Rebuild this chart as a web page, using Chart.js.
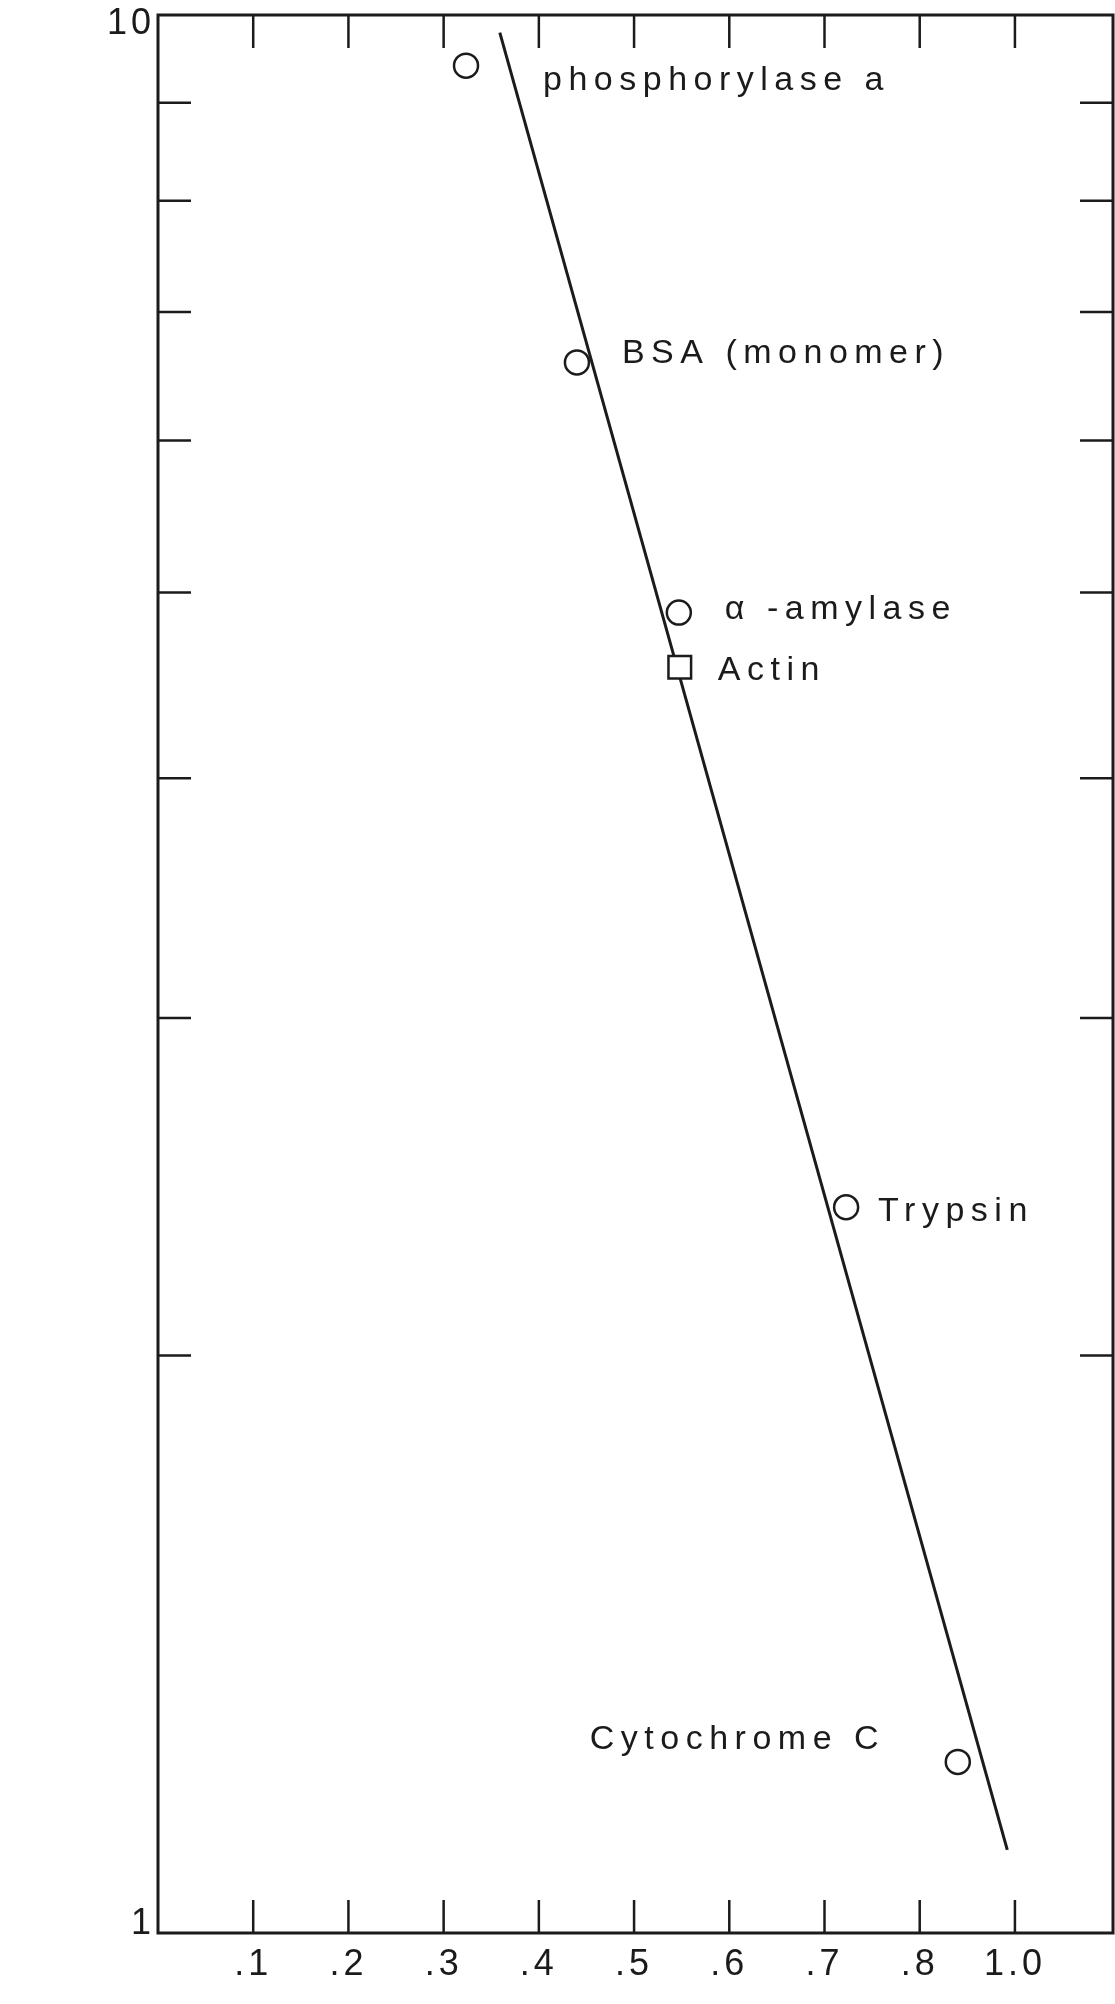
<!DOCTYPE html>
<html>
<head>
<meta charset="utf-8">
<script src="https://cdn.jsdelivr.net/npm/chart.js@4.4.0/dist/chart.umd.min.js"></script>
<style>
  html, body { margin: 0; padding: 0; background: #fff; }
  canvas { display: block; }
</style>
</head>
<body>
<canvas id="mwChart" width="1115" height="2004"></canvas>
<script>
// Standards: relative mobility vs molecular weight (x 10^-4)
const proteins = ['phosphorylase a', 'BSA (monomer)', 'α -amylase', 'Trypsin', 'Cytochrome C'];
const mobility = [0.3235, 0.440, 0.547, 0.7227, 0.840];
const molWeight = [9.41, 6.59, 4.88, 2.39, 1.228];

// Actin (square marker)
const actinName = ['Actin'];
const actinMobility = [0.548];
const actinWeight = [4.57];

// Fitted line end points
const fitMobility = [0.359, 0.892];
const fitWeight = [9.79, 1.105];

// Axis ticks
const xTickValues = [0.1, 0.2, 0.3, 0.4, 0.5, 0.6, 0.7, 0.8, 0.9];
const xTickLabels = ['.1', '.2', '.3', '.4', '.5', '.6', '.7', '.8', '1.0'];
const yTickValues = [1, 2, 3, 4, 5, 6, 7, 8, 9, 10];
const yLabelValues = [1, 10];
const yLabelTexts = ['1', '10'];

const ink = '#1b1b1b';
const fontFamily = '"Liberation Sans", Arial, sans-serif';

// text offsets (px) from each marker centre
const labelOffsets = [[77, 24], [45, 1], [46, 6], [32, 14], [-368, -13]];
const actinOffset = [38, 13];

const toPoints = (xs, ys) => xs.map((x, i) => ({ x: x, y: ys[i] }));

// frame + inward tick marks
const frameAndTicks = {
    id: 'frameAndTicks',
    beforeDraw(chart) {
        chart.ctx.letterSpacing = '4px';
    },
    afterDraw(chart) {
        const ctx = chart.ctx;
        const a = chart.chartArea;
        const xs = chart.scales.x;
        const ys = chart.scales.y;
        const len = 33;
        ctx.save();
        ctx.strokeStyle = ink;
        ctx.lineWidth = 2.5;
        ctx.beginPath();
        xs.ticks.forEach((t, i) => {
            const px = xs.getPixelForTick(i);
            ctx.moveTo(px, a.bottom);
            ctx.lineTo(px, a.bottom - len);
            ctx.moveTo(px, a.top);
            ctx.lineTo(px, a.top + len);
        });
        ys.ticks.forEach((t, i) => {
            if (t.value <= 1 || t.value >= 10) return;
            const py = ys.getPixelForTick(i);
            ctx.moveTo(a.left, py);
            ctx.lineTo(a.left + len, py);
            ctx.moveTo(a.right, py);
            ctx.lineTo(a.right - len, py);
        });
        ctx.stroke();
        ctx.lineWidth = 3;
        ctx.strokeRect(a.left, a.top, a.right - a.left, a.bottom - a.top);
        ctx.restore();
    }
};

// protein names next to the markers
const pointNames = {
    id: 'pointNames',
    afterDatasetsDraw(chart) {
        const ctx = chart.ctx;
        ctx.save();
        ctx.letterSpacing = '6.5px';
        ctx.font = '34px ' + fontFamily;
        ctx.fillStyle = ink;
        ctx.textAlign = 'left';
        ctx.textBaseline = 'alphabetic';
        chart.getDatasetMeta(0).data.forEach((el, i) => {
            ctx.fillText(proteins[i], el.x + labelOffsets[i][0], el.y + labelOffsets[i][1]);
        });
        chart.getDatasetMeta(1).data.forEach((el, i) => {
            ctx.fillText(actinName[i], el.x + actinOffset[0], el.y + actinOffset[1]);
        });
        ctx.restore();
    }
};

const ctx = document.getElementById('mwChart').getContext('2d');
const mwChart = new Chart(ctx, {
    type: 'scatter',
    data: {
        datasets: [{
            label: 'Standards',
            data: toPoints(mobility, molWeight),
            pointStyle: 'circle',
            pointRadius: 12,
            borderWidth: 2.5,
            borderColor: ink,
            backgroundColor: '#fff'
        }, {
            label: 'Actin',
            data: toPoints(actinMobility, actinWeight),
            pointStyle: 'rect',
            pointRadius: 16,
            borderWidth: 2.5,
            borderColor: ink,
            backgroundColor: '#fff'
        }, {
            label: 'Fit',
            data: toPoints(fitMobility, fitWeight),
            showLine: true,
            pointRadius: 0,
            borderWidth: 3,
            borderColor: ink
        }]
    },
    options: {
        responsive: false,
        animation: false,
        layout: {
            autoPadding: false,
            padding: { top: 15, right: 2, bottom: 0, left: 0 }
        },
        plugins: {
            legend: { display: false },
            tooltip: { enabled: false }
        },
        scales: {
            x: {
                type: 'linear',
                min: 0,
                max: 1.003,
                grid: { display: false, drawTicks: false },
                border: { display: false },
                afterBuildTicks: scale => {
                    scale.ticks = xTickValues.map(v => ({ value: v }));
                },
                afterFit: scale => {
                    scale.height = 71;
                    scale.paddingLeft = 0;
                    scale.paddingRight = 0;
                },
                ticks: {
                    color: ink,
                    padding: 10,
                    maxRotation: 0,
                    autoSkip: false,
                    font: { family: fontFamily, size: 36 },
                    callback: (value, index) => xTickLabels[index]
                }
            },
            y: {
                type: 'logarithmic',
                min: 1,
                max: 10,
                grid: { display: false, drawTicks: false },
                border: { display: false },
                afterBuildTicks: scale => {
                    scale.ticks = yTickValues.map(v => ({ value: v }));
                },
                afterFit: scale => {
                    scale.width = 158;
                    scale.paddingTop = 0;
                    scale.paddingBottom = 0;
                },
                ticks: {
                    color: ink,
                    padding: 3,
                    autoSkip: false,
                    font: { family: fontFamily, size: 36, lineHeight: 0.5 },
                    // top label sits just below the tick, bottom one just above
                    callback: value => {
                        const k = yLabelValues.indexOf(value);
                        if (k < 0) return '';
                        return value >= 10 ? ['', yLabelTexts[k]] : [yLabelTexts[k], ''];
                    }
                }
            }
        }
    },
    plugins: [frameAndTicks, pointNames]
});
</script>
</body>
</html>
